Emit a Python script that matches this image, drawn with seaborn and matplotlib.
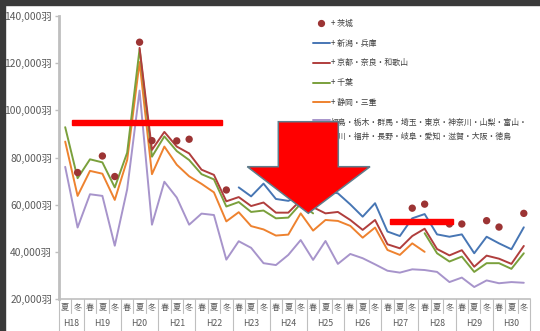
import numpy as np
import pandas as pd
import seaborn as sns
import matplotlib
matplotlib.use("Agg")
import matplotlib.pyplot as plt
from matplotlib.lines import Line2D
from matplotlib.patches import Rectangle, Polygon
from matplotlib.legend_handler import HandlerLine2D

nan = np.nan

# ---- categories ----
seasons = ["夏", "冬"] + ["春", "夏", "冬"] * 12
years = ["H18", "H19", "H20", "H21", "H22", "H23", "H24",
         "H25", "H26", "H27", "H28", "H29", "H30"]

# ---- series values (thousand birds) ----
ibaraki_idx = [1, 3, 4, 6, 7, 9, 10, 13, 28, 29, 31, 32, 34, 35, 37]
ibaraki_val = [73.7, 80.7, 72.0, 128.9, 87.2, 87.1, 87.8, 66.3,
               58.6, 60.3, 51.9, 51.9, 53.3, 50.6, 56.4]

niigata = [nan] * 14 + [67.4, 63.6, 69.0, 62.5, 61.7, 64.0, 61.0, 66.0, 64.9,
                        60.2, 55.0, 60.7, 48.7, 46.8, 54.3, 56.1, 47.5, 46.5,
                        47.5, 39.5, 46.5, 43.7, 41.2, 50.5]
kyoto = [nan] * 6 + [126.5, 83.3, 90.9, 84.7, 81.8, 74.9, 72.7, 61.5, 63.3,
                     59.5, 61.0, 56.7, 56.7, 62.0, 59.0, 56.4, 57.0, 53.6,
                     49.4, 53.6, 43.3, 41.6, 46.8, 49.9, 41.3, 38.6, 40.8,
                     33.8, 38.5, 37.2, 35.0, 42.6]
chiba = [92.9, 71.3, 79.3, 78.0, 67.4, 82.1, 126.0, 80.4, 89.0, 82.8, 79.0,
         73.0, 70.8, 59.3, 61.2, 57.0, 57.6, 54.3, 54.6, 60.5, 56.4] + [nan] * 8 + \
        [48.0, 39.5, 36.0, 38.1, 31.6, 35.3, 35.3, 32.9, 39.5]
shizuoka = [86.8, 63.8, 74.4, 73.2, 62.1, 79.0, 120.5, 73.0, 84.7, 77.0, 72.1,
            68.9, 65.3, 53.0, 56.9, 51.0, 49.6, 47.0, 47.4, 56.4, 49.1, 53.6,
            53.2, 51.1, 46.1, 50.4, 40.9, 38.8, 43.7, 40.1] + [nan] * 8
base = [76.1, 50.4, 64.5, 63.8, 42.7, 66.6, 108.4, 51.6, 69.8, 63.1, 51.6,
        56.3, 55.7, 36.8, 44.6, 41.8, 35.3, 34.5, 38.8, 45.1, 36.7, 44.7,
        35.0, 39.2, 37.4, 34.8, 32.1, 31.3, 32.7, 32.4, 31.6, 27.3, 29.2,
        25.2, 28.0, 26.8, 27.3, 27.0]

labels = ["+ 茨城", "+ 新潟・兵庫", "+ 京都・奈良・和歌山", "+ 千葉", "+ 静岡・三重",
          "福島・栃木・群馬・埼玉・東京・神奈川・山梨・富山・\n石川・福井・長野・岐阜・愛知・滋賀・大阪・徳島"]
line_series = {labels[1]: niigata, labels[2]: kyoto, labels[3]: chiba,
               labels[4]: shizuoka, labels[5]: base}
colors = {labels[0]: "#9c3434", labels[1]: "#4776b4", labels[2]: "#b03e3d",
          labels[3]: "#7aa03c", labels[4]: "#ee822f", labels[5]: "#a794cb"}

# long dataframe with contiguous segments as units
rows = []
for name, vals in line_series.items():
    seg = 0
    prev_nan = True
    for i, v in enumerate(vals):
        if np.isnan(v):
            prev_nan = True
            continue
        if prev_nan:
            seg += 1
            prev_nan = False
        rows.append({"idx": i, "val": v * 1000, "series": name, "seg": f"{name}_{seg}"})
df = pd.DataFrame(rows)
dots = pd.DataFrame({"idx": ibaraki_idx, "val": np.array(ibaraki_val) * 1000})

sns.set_theme(style="white")
plt.rcParams["font.family"] = ["Noto Sans CJK JP", "DejaVu Sans"]

W, H = 540, 331
fig = plt.figure(figsize=(W / 100, H / 100), dpi=100, facecolor="white")
ax = fig.add_axes([59 / W, 1 - 299.3 / H, (530 - 59) / W, (299.3 - 16) / H])

order = [labels[5], labels[4], labels[3], labels[2], labels[1]]
sns.lineplot(data=df, x="idx", y="val", hue="series", units="seg",
             estimator=None, palette=colors, hue_order=order, legend=False,
             linewidth=1.4, sort=True, ax=ax)
sns.scatterplot(data=dots, x="idx", y="val", color=colors[labels[0]], s=28,
                edgecolor="none", ax=ax, zorder=4)

ax.set_xlim(-0.5, len(seasons) - 0.5)
ax.set_ylim(20000, 140000)
ax.set_xlabel("")
ax.set_ylabel("")
ytk = np.arange(20000, 140001, 20000)
ax.set_yticks(ytk, [f"{v:,}羽" for v in ytk])
ax.set_xticks(range(len(seasons)), seasons)
ax.tick_params(axis="y", length=3, width=1, color="#bfbfbf", labelsize=7.4,
               labelcolor="#595959", pad=2, left=True)
ax.tick_params(axis="x", length=0, labelsize=5.9, labelcolor="#595959", pad=3)
for s in ["top", "right"]:
    ax.spines[s].set_visible(False)
ax.spines["left"].set_color("#bfbfbf")
ax.spines["left"].set_linewidth(2)
ax.spines["bottom"].set_color("#bfbfbf")
ax.spines["bottom"].set_linewidth(1.2)

# category axis separators
tr = ax.get_xaxis_transform()
axh = 299.3 - 16
year_bounds = [0, 2] + list(range(5, 39, 3))
for b in range(len(seasons) + 1):
    y1 = -(331 - 299.3) / axh if b in year_bounds else -14 / axh
    ax.plot([b - 0.5, b - 0.5], [0, y1], transform=tr, color="#bfbfbf",
            lw=0.8, clip_on=False)
year_centers = [0.5] + [3 * k for k in range(1, 13)]
for yc, yl in zip(year_centers, years):
    ax.text(yc, -(323.5 - 299.3) / axh, yl, transform=tr, ha="center",
            va="center", fontsize=6.3, color="#595959")


class HandlerTopLine(HandlerLine2D):
    """Align the handle of a two-line entry with its first text line."""
    def create_artists(self, legend, orig_handle, xdescent, ydescent,
                       width, height, fontsize, trans):
        return super().create_artists(legend, orig_handle, xdescent,
                                      ydescent - 15.0, width, height,
                                      fontsize, trans)


# legend
handles = [Line2D([], [], marker="o", ls="none", color=colors[labels[0]], markersize=4.2)]
handles += [Line2D([], [], color=colors[l], lw=1.4) for l in labels[1:]]
leg = ax.legend(handles, labels, loc="upper left", bbox_to_anchor=(313 / W, 1 - 18.5 / H),
                bbox_transform=fig.transFigure, frameon=False, fontsize=5.7,
                handlelength=2.1, handletextpad=0.2, labelspacing=1.38,
                borderpad=0, borderaxespad=0, labelcolor="#404040",
                handler_map={handles[-1]: HandlerTopLine()})
leg.get_texts()[-1].set_linespacing(1.6)

# frame strips
fig.patches.append(Rectangle((0, 1 - 5 / H), 1, 5 / H, transform=fig.transFigure,
                             color="#3a3a3a", zorder=0))
fig.patches.append(Rectangle((0, 0), 5 / W, 1, transform=fig.transFigure,
                             color="#3a3a3a", zorder=0))

def fp(x, y):
    return (x / W, 1 - y / H)

# red emphasis bars
for (x0, x1, y0, y1) in [(71.7, 221.7, 120, 124.5), (390, 452.7, 219, 224)]:
    ax.add_patch(Rectangle(fp(x0, y1), (x1 - x0) / W, (y1 - y0) / H,
                           transform=fig.transFigure, color="#ff0000",
                           zorder=10, clip_on=False))
# down arrow
arrow = [fp(278.3, 121.7), fp(338.3, 121.7), fp(338.3, 166.7), fp(370, 166.7),
         fp(308.3, 213.3), fp(247.3, 166.7), fp(278.3, 166.7)]
ax.add_patch(Polygon(arrow, closed=True, transform=fig.transFigure,
                     facecolor="#ff0000", edgecolor="#5e7d8c", lw=1.1,
                     zorder=11, clip_on=False))

fig.savefig("out.png", dpi=100, facecolor="white")
